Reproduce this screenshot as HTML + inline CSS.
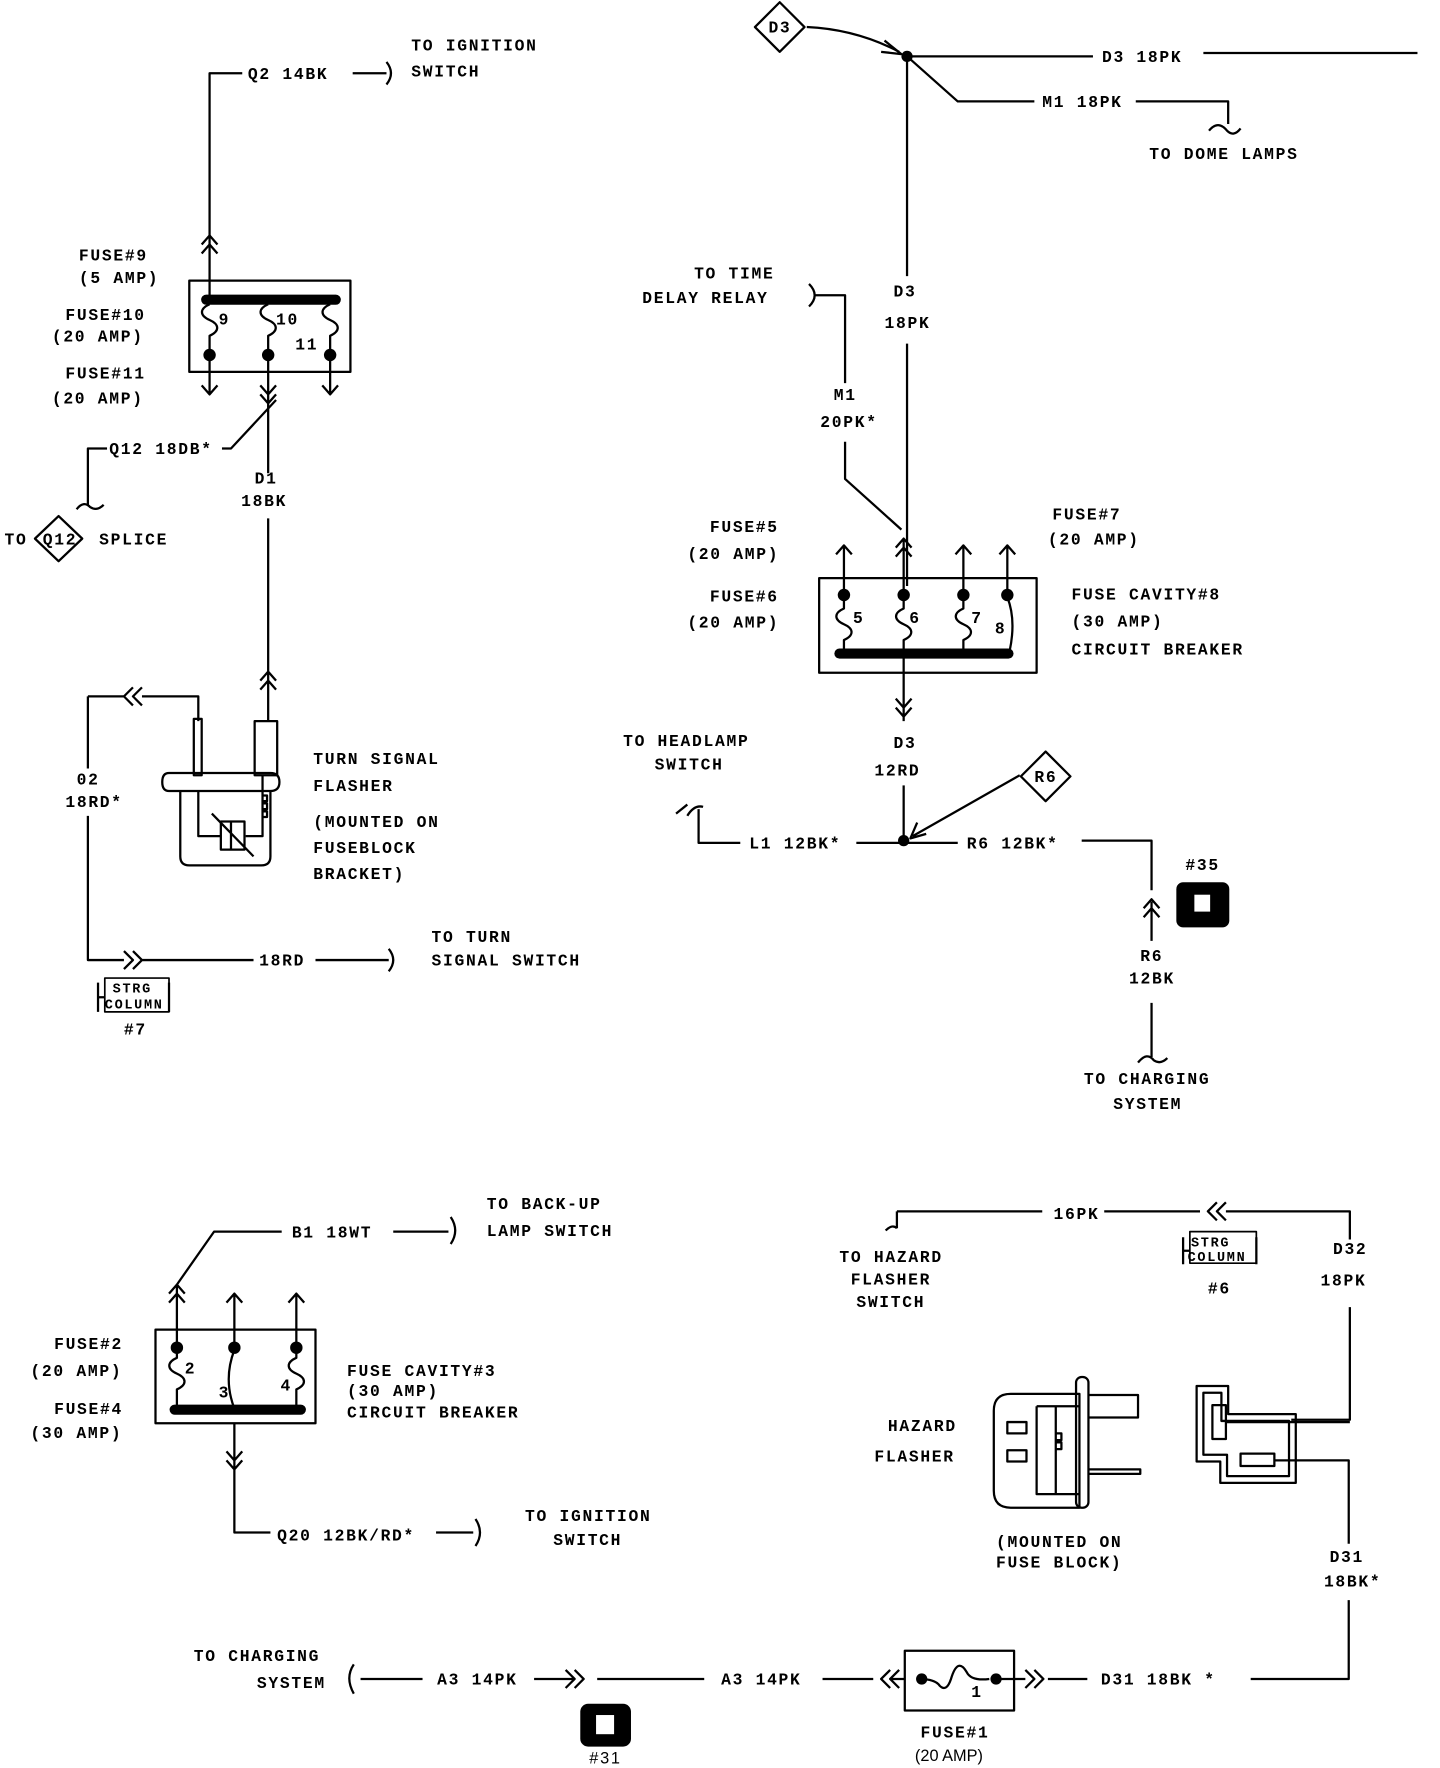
<!DOCTYPE html>
<html><head><meta charset="utf-8"><style>
html,body{margin:0;padding:0;background:#fff;}
svg{display:block}
text{font-family:"Liberation Mono",monospace;font-size:14.5px;font-weight:bold;fill:#000;letter-spacing:1.5px}
</style></head><body>
<svg width="1440" height="1768" viewBox="0 0 1278 1569" preserveAspectRatio="none" xmlns="http://www.w3.org/2000/svg">
<g fill="none" stroke="#000" stroke-width="2" stroke-linejoin="round">
<!-- TOP LEFT -->
<path d="M186 262 V65 H215"/><path d="M313 65 H343"/><path d="M343 55 q8 10 0 20"/>
<path d="M179 217 l7 -8 l7 8 M179 225 l7 -8 l7 8"/>
<rect x="168" y="249" width="143" height="81"/>
<path d="M183 266 H298" stroke-width="9" stroke-linecap="round"/>
<path d="M186 270 c-9 4 -9 10 0 14 c9 4 9 10 0 14 V318"/>
<path d="M238 270 c-9 4 -9 10 0 14 c9 4 9 10 0 14 V318"/>
<path d="M293 270 c-9 4 -9 10 0 14 c9 4 9 10 0 14 V318"/>
<path d="M186 315 V350 M179 342 l7 8 l7 -8"/>
<path d="M238 315 V420 M231 342 l7 8 l7 -8 M231 350 l7 8 l7 -8"/>
<path d="M293 315 V350 M286 342 l7 8 l7 -8"/>
<path d="M245 355 L205 398 H197"/>
<path d="M95 398 H78 V448 M68 452 q6 -8 12 -2 q6 4 12 -2"/>
<path d="M238 460 V640 M231 604 l7 -8 l7 8 M231 612 l7 -8 l7 8"/>
<path d="M52 458 L73 478 L52 498 L31 478 Z"/>
<!-- flasher -->
<path d="M78 618 H110 M118 610 l-8 8 l8 8 M126 610 l-8 8 l8 8 M126 618 H176 V640"/>
<rect x="172" y="638" width="7" height="50"/>
<rect x="226" y="640" width="20" height="48"/>
<path d="M150 686 H240 q8 0 8 8 q0 8 -8 8 H150 q-6 0 -6 -8 q0 -8 6 -8 Z"/>
<path d="M160 702 V760 q0 8 8 8 H232 q8 0 8 -8 V702"/>
<path d="M176 702 V742 H196 M218 742 H233 V688"/>
<rect x="196" y="729" width="21" height="25"/><path d="M205 729 V754 M188 722 L225 760"/>
<path d="M233 706 h4 v5 h-4 M233 713 h4 v5 h-4 M233 720 h4 v5 h-4"/>
<path d="M78 618 V682 M78 724 V852 H110 M110 844 l8 8 l-8 8 M118 844 l8 8 l-8 8 M126 852 H225 M280 852 H345 M345 842 q8 10 0 20"/>
<path d="M87 872 V898 M87 885 H93 M150 872 V898"/>
<rect x="93" y="868" width="57" height="30" stroke-width="1.5"/>
<!-- TOP RIGHT -->
<path d="M692 2 L714 24 L692 46 L670 24 Z"/>
<path d="M716 24 Q760 26 798 46"/><path d="M785 36 l15 12 l-18 -2"/>
<path d="M805 50 H970 M1068 47 H1258"/>
<path d="M805 50 L850 90 H918 M1008 90 H1090 V110 M1073 116 q8 -10 16 0 q6 6 12 -2"/>
<path d="M805 50 V245 M805 305 V520"/>
<path d="M718 252 q10 10 0 20 M722 262 H750 V340 M750 392 V425 L800 470"/>
<rect x="727" y="513" width="193" height="84"/>
<path d="M745 580 H895" stroke-width="9" stroke-linecap="round"/>
<path d="M749 528 V484 M742 492 l7 -8 l7 8"/>
<path d="M802 528 V478 M795 486 l7 -8 l7 8 M795 494 l7 -8 l7 8"/>
<path d="M855 528 V484 M848 492 l7 -8 l7 8"/>
<path d="M894 528 V484 M887 492 l7 -8 l7 8"/>
<path d="M749 530 V540 c-9 4 -9 10 0 14 c9 4 9 10 0 14 V578"/>
<path d="M802 530 V540 c-9 4 -9 10 0 14 c9 4 9 10 0 14 V578"/>
<path d="M855 530 V540 c-9 4 -9 10 0 14 c9 4 9 10 0 14 V578"/>
<path d="M894 530 q8 20 2 48"/>
<path d="M802 584 V640 M795 620 l7 8 l7 -8 M795 628 l7 8 l7 -8"/>
<path d="M802 697 V746"/>
<path d="M928 667 L950 689 L928 711 L906 689 Z"/>
<path d="M905 688 L810 742 M814 730 l-6 14 l14 -4"/>
<path d="M610 724 q6 -10 14 -8 M620 718 V748 H657 M760 748 H850 M960 746 H1022 V790"/>
<path d="M1015 806 l7 -8 l7 8 M1015 814 l7 -8 l7 8 M1022 800 V835 M1022 890 V938 M1010 943 q8 -10 14 -2 q6 4 12 -2"/>
<path d="M600 722 l10 -8"/>
<!-- BOTTOM LEFT -->
<rect x="138" y="1180" width="142" height="83"/>
<path d="M155 1251 H267" stroke-width="9" stroke-linecap="round"/>
<path d="M157 1196 V1140 M150 1148 l7 -8 l7 8 M150 1156 l7 -8 l7 8 M157 1140 L190 1093 H250 M349 1093 H398 M400 1080 q8 12 0 24"/>
<path d="M208 1196 V1148 M201 1156 l7 -8 l7 8"/>
<path d="M263 1196 V1148 M256 1156 l7 -8 l7 8"/>
<path d="M157 1198 V1205 c-9 4 -9 10 0 14 c9 4 9 10 0 14 V1249"/>
<path d="M208 1198 q-10 26 0 52"/>
<path d="M263 1198 V1205 c-9 4 -9 10 0 14 c9 4 9 10 0 14 V1249"/>
<path d="M208 1263 V1360 H240 M201 1288 l7 8 l7 -8 M201 1296 l7 8 l7 -8 M387 1360 H420 M422 1348 q8 12 0 24"/>
<!-- BOTTOM RIGHT -->
<path d="M796 1090 V1075 M786 1092 q6 -6 10 -2 M796 1075 H925 M980 1075 H1065 M1080 1067 l-8 8 l8 8 M1088 1067 l-8 8 l8 8 M1088 1075 H1198 V1100 M1198 1160 V1260 H1146"/>
<path d="M1050 1098 V1122 M1050 1110 H1056 M1115 1098 V1122"/>
<rect x="1056" y="1093" width="59" height="28" stroke-width="1.5"/>
<!-- hazard flasher -->
<path d="M897 1237 H958 V1338 H897 q-15 0 -15 -15 V1252 q0 -15 15 -15 Z"/>
<rect x="955" y="1222" width="11" height="116" rx="5"/>
<path d="M920 1248 H958 M920 1248 V1326 H958 M937 1248 V1326"/>
<rect x="894" y="1262" width="17" height="10"/><rect x="894" y="1287" width="17" height="10"/>
<path d="M937 1272 h5 v6 h-5 M937 1280 h5 v6 h-5"/>
<path d="M966 1238 H1010 V1258 H966 M966 1304 H1012 V1308 H966"/>
<!-- connector -->
<path d="M1062 1230 H1090 V1255 H1150 V1316 H1083 V1297 H1062 Z"/>
<path d="M1068 1236 H1084 V1261 H1144 V1310 H1089 V1291 H1068 Z"/>
<rect x="1076" y="1247" width="12" height="30"/><rect x="1101" y="1290" width="30" height="11"/>
<path d="M1088 1262 H1198 M1131 1296 H1197 V1370 M1197 1420 V1490 H1110"/>
<path d="M965 1490 H930 M918 1482 l8 8 l-8 8 M910 1482 l8 8 l-8 8 M910 1490 H880"/>
<rect x="803" y="1465" width="97" height="53"/>
<path d="M816 1490 q14 0 18 6 q6 6 10 -6 q6 -20 14 -6 q4 8 20 6"/>
<path d="M790 1482 l-8 8 l8 8 M798 1482 l-8 8 l8 8 M775 1490 H730 M803 1490 H790"/>
<path d="M625 1490 H530 M510 1482 l8 8 l-8 8 M502 1482 l8 8 l-8 8 M510 1490 H474 M375 1490 H320 M314 1477 q-8 12 0 26"/>
</g>
<g fill="#000">
<circle cx="186" cy="315" r="5.5"/><circle cx="238" cy="315" r="5.5"/><circle cx="293" cy="315" r="5.5"/>
<circle cx="805" cy="50" r="5"/><circle cx="802" cy="746" r="5"/>
<circle cx="749" cy="528" r="5.5"/><circle cx="802" cy="528" r="5.5"/><circle cx="855" cy="528" r="5.5"/><circle cx="894" cy="528" r="5.5"/>
<circle cx="157" cy="1196" r="5.5"/><circle cx="208" cy="1196" r="5.5"/><circle cx="263" cy="1196" r="5.5"/>
<circle cx="818" cy="1490" r="5"/><circle cx="884" cy="1490" r="5"/>
<rect x="1044" y="783" width="47" height="40" rx="6"/>
<rect x="515" y="1512" width="45" height="38" rx="7"/>
</g>
<g fill="#fff"><rect x="1060" y="794" width="14" height="15"/><rect x="529" y="1522" width="16" height="17"/></g>
<g>
<text x="220" y="70">Q2 14BK</text><text x="365" y="45">TO IGNITION</text><text x="365" y="68">SWITCH</text>
<text x="70" y="231">FUSE#9</text><text x="70" y="251">(5 AMP)</text>
<text x="58" y="284">FUSE#10</text><text x="46" y="303">(20 AMP)</text>
<text x="58" y="336">FUSE#11</text><text x="46" y="358">(20 AMP)</text>
<text x="194" y="288">9</text><text x="245" y="288">10</text><text x="262" y="310">11</text>
<text x="97" y="403">Q12 18DB*</text>
<text x="226" y="429">D1</text><text x="214" y="449">18BK</text>
<text x="4" y="483">TO</text><text x="38" y="483">Q12</text><text x="88" y="483">SPLICE</text>
<text x="278" y="678">TURN SIGNAL</text><text x="278" y="702">FLASHER</text>
<text x="278" y="734">(MOUNTED ON</text><text x="278" y="757">FUSEBLOCK</text><text x="278" y="780">BRACKET)</text>
<text x="68" y="696">02</text><text x="58" y="716">18RD*</text>
<text x="230" y="857">18RD</text><text x="383" y="836">TO TURN</text><text x="383" y="857">SIGNAL SWITCH</text>
<text x="100" y="881" style="font-size:12px">STRG</text><text x="93" y="895" style="font-size:12px">COLUMN</text><text x="110" y="918">#7</text>
<text x="682" y="29">D3</text>
<text x="978" y="55">D3 18PK</text><text x="925" y="95">M1 18PK</text><text x="1020" y="141">TO DOME LAMPS</text>
<text x="616" y="247">TO TIME</text><text x="570" y="269">DELAY RELAY</text>
<text x="793" y="263">D3</text><text x="785" y="291">18PK</text>
<text x="740" y="355">M1</text><text x="728" y="379">20PK*</text>
<text x="630" y="472">FUSE#5</text><text x="610" y="496">(20 AMP)</text>
<text x="630" y="534">FUSE#6</text><text x="610" y="557">(20 AMP)</text>
<text x="934" y="461">FUSE#7</text><text x="930" y="483">(20 AMP)</text>
<text x="951" y="532">FUSE CAVITY#8</text><text x="951" y="556">(30 AMP)</text><text x="951" y="581">CIRCUIT BREAKER</text>
<text x="757" y="553">5</text><text x="807" y="553">6</text><text x="862" y="553">7</text><text x="883" y="562">8</text>
<text x="553" y="662">TO HEADLAMP</text><text x="581" y="683">SWITCH</text>
<text x="793" y="664">D3</text><text x="776" y="688">12RD</text><text x="918" y="694">R6</text>
<text x="665" y="753">L1 12BK*</text><text x="858" y="753">R6 12BK*</text>
<text x="1052" y="772">#35</text><text x="1012" y="853">R6</text><text x="1002" y="873">12BK</text>
<text x="962" y="962">TO CHARGING</text><text x="988" y="984">SYSTEM</text>
<text x="259" y="1098">B1 18WT</text><text x="432" y="1073">TO BACK-UP</text><text x="432" y="1097">LAMP SWITCH</text>
<text x="48" y="1197">FUSE#2</text><text x="27" y="1221">(20 AMP)</text><text x="48" y="1255">FUSE#4</text><text x="27" y="1276">(30 AMP)</text>
<text x="164" y="1219">2</text><text x="194" y="1240">3</text><text x="249" y="1234">4</text>
<text x="308" y="1221">FUSE CAVITY#3</text><text x="308" y="1239">(30 AMP)</text><text x="308" y="1258">CIRCUIT BREAKER</text>
<text x="246" y="1367">Q20 12BK/RD*</text><text x="466" y="1350">TO IGNITION</text><text x="491" y="1371">SWITCH</text>
<text x="935" y="1082">16PK</text><text x="745" y="1120">TO HAZARD</text><text x="755" y="1140">FLASHER</text><text x="760" y="1160">SWITCH</text>
<text x="1057" y="1106" style="font-size:12px">STRG</text><text x="1054" y="1119" style="font-size:12px">COLUMN</text><text x="1072" y="1148">#6</text>
<text x="1183" y="1113">D32</text><text x="1172" y="1141">18PK</text>
<text x="788" y="1270">HAZARD</text><text x="776" y="1297">FLASHER</text>
<text x="884" y="1373">(MOUNTED ON</text><text x="884" y="1391">FUSE BLOCK)</text>
<text x="1180" y="1386">D31</text><text x="1175" y="1408">18BK*</text>
<text x="977" y="1495">D31 18BK *</text><text x="862" y="1506">1</text>
<text x="640" y="1495">A3 14PK</text><text x="388" y="1495">A3 14PK</text>
<text x="172" y="1474">TO CHARGING</text><text x="228" y="1498">SYSTEM</text>
<text x="523" y="1565" style="font-weight:normal;font-family:'Liberation Sans',sans-serif">#31</text>
<text x="817" y="1542">FUSE#1</text><text x="812" y="1563" style="font-weight:normal;font-family:'Liberation Sans',sans-serif;letter-spacing:0">(20 AMP)</text>
</g>
</svg>
</body></html>
